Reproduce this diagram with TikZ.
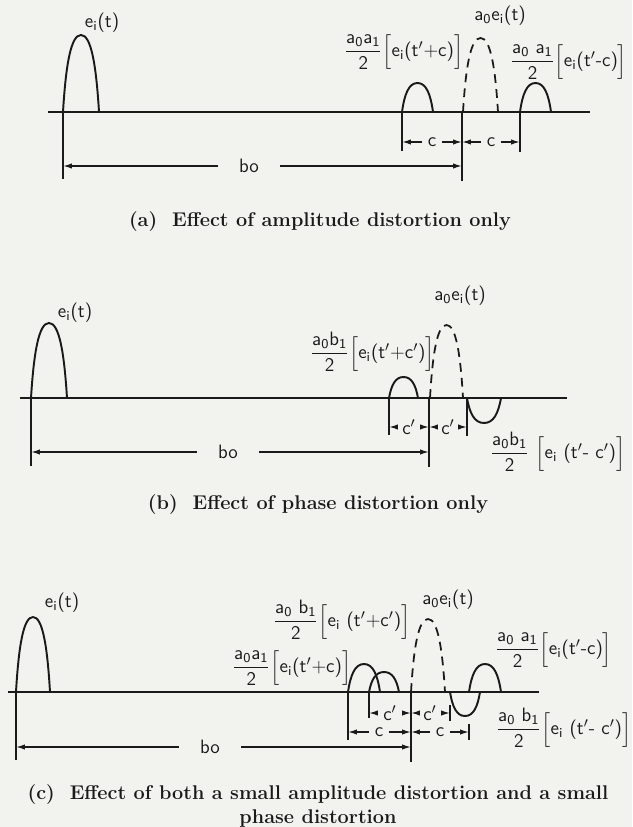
\documentclass[tikz,border=0pt]{standalone}
\usepackage{amsmath}
\usepackage{tikz}
\usetikzlibrary{arrows.meta}
\definecolor{Paper}{HTML}{F2F2EF}
\definecolor{Ink}{HTML}{1A1A1A}
\newcommand{\pfrac}[2]{\ensuremath{\dfrac{\text{#1}}{\text{#2}}}}
\newcommand{\pbrk}[1]{\ensuremath{\left[\vphantom{\dfrac{a}{2}}\text{#1}\right]}}
\newcommand{\drawpulse}[5][]{%
  \draw[wave,#1] (#2,#4) .. controls ({#2+0.08*(#3-#2)},{#4+0.62*(#5-#4)}) and ({#2+0.22*(#3-#2)},#5) .. ({0.5*(#2+#3)},#5)
    .. controls ({#3-0.22*(#3-#2)},#5) and ({#3-0.08*(#3-#2)},{#4+0.62*(#5-#4)}) .. (#3,#4);%
}

\begin{document}
\begin{tikzpicture}[x=0.02cm,y=-0.02cm,
    every node/.style={font=\sffamily\fontsize{11}{13}\selectfont,text=Ink,inner sep=1pt},
    wave/.style={draw=Ink,line width=1.1pt},
    ghost/.style={line width=1pt,dash pattern=on 5pt off 3.5pt},
    axisline/.style={draw=Ink,line width=0.9pt},
    extline/.style={draw=Ink,line width=0.9pt},
    dimarrow/.style={draw=Ink,line width=0.8pt,-{Latex[length=5pt,width=3pt]}},
    dimlabel/.style={inner xsep=3pt},
    caption/.style={font=\bfseries\fontsize{11.3}{14}\selectfont,align=center}]
  \fill[Paper] (0,0) rectangle (632,827);
  \useasboundingbox (0,0) rectangle (632,827);

  % (a)
  \draw[axisline] (48,112) -- (590,112);
  \drawpulse{63}{99}{112}{35}
  \drawpulse{402}{433}{112}{83}
  \drawpulse[ghost]{463}{498}{112}{38}
  \drawpulse{520}{551}{112}{83}
  \draw[extline] (63,112) -- (63,179);
  \draw[extline] (462,112) -- (462,181);
  \draw[extline] (402,112) -- (402,151);
  \draw[extline] (520,112) -- (520,152);
  \node (eia) at (102,23) {e\textsubscript{i}(t)};
  \node (refa) at (500,16) {a\textsubscript{0}e\textsubscript{i}(t)};
  \node[anchor=west] (ampla) at (342,52) {\pfrac{a\textsubscript{0}a\textsubscript{1}}{2}\pbrk{e\textsubscript{i}(t$'$+c)}};
  \node[anchor=west] (amplb) at (508,62) {\pfrac{a\textsubscript{0} a\textsubscript{1}}{2}\pbrk{e\textsubscript{i}(t$'$-c)}};
  \coordinate (ca1) at (402,142);
  \coordinate (ca2) at (462,142);
  \coordinate (ca3) at (520,142);
  \node[dimlabel] (cla) at (432,142) {c};
  \node[dimlabel] (cra) at (491,142) {c};
  \draw[dimarrow] (cla) -- (ca1);
  \draw[dimarrow] (cla) -- (ca2);
  \draw[dimarrow] (cra) -- (ca2);
  \draw[dimarrow] (cra) -- (ca3);
  \coordinate (boa1) at (63,166);
  \coordinate (boa2) at (462,166);
  \node[inner xsep=12pt] (boa) at (249,166) {bo};
  \draw[dimarrow] (boa) -- (boa1);
  \draw[dimarrow] (boa) -- (boa2);
  \node[caption] (capa) at (320,222) {(a)\ \ Effect of amplitude distortion only};

  % (b)
  \draw[axisline] (20,398) -- (567,398);
  \drawpulse{31}{67}{398}{323}
  \drawpulse{389}{418}{398}{377}
  \drawpulse[ghost]{430}{463}{398}{325}
  \drawpulse{467}{501}{398}{423}
  \draw[extline] (31,398) -- (31,466);
  \draw[extline] (429,398) -- (429,467);
  \draw[extline] (389,398) -- (389,435);
  \draw[extline] (467,398) -- (467,436);
  \node (eib) at (75,313) {e\textsubscript{i}(t)};
  \node (refb) at (460,296) {a\textsubscript{0}e\textsubscript{i}(t)};
  \node[anchor=west] (phsa) at (308,352) {\pfrac{a\textsubscript{0}b\textsubscript{1}}{2}\pbrk{e\textsubscript{i}(t$'$+c$'$)}};
  \node[anchor=west] (phsb) at (488,452) {\pfrac{a\textsubscript{0}b\textsubscript{1}}{2}\ \pbrk{e\textsubscript{i} (t$'$- c$'$)}};
  \coordinate (cb1) at (389,427);
  \coordinate (cb2) at (429,427);
  \coordinate (cb3) at (467,427);
  \node[dimlabel] (clb) at (409,427) {c$'$};
  \node[dimlabel] (crb) at (448,427) {c$'$};
  \draw[dimarrow] (clb) -- (cb1);
  \draw[dimarrow] (clb) -- (cb2);
  \draw[dimarrow] (crb) -- (cb2);
  \draw[dimarrow] (crb) -- (cb3);
  \coordinate (bob1) at (31,452);
  \coordinate (bob2) at (429,452);
  \node[inner xsep=12pt] (bob) at (228,452) {bo};
  \draw[dimarrow] (bob) -- (bob1);
  \draw[dimarrow] (bob) -- (bob2);
  \node[caption] (capb) at (318,505) {(b)\ \ Effect of phase distortion only};

  % (c)
  \draw[axisline] (8,692) -- (539,692);
  \drawpulse{16}{50}{692}{617}
  \drawpulse{348}{380}{692}{664}
  \drawpulse{369}{399}{692}{672}
  \drawpulse[ghost]{411}{445}{692}{619}
  \drawpulse{450}{480}{692}{716}
  \drawpulse{469}{501}{692}{664}
  \draw[extline] (16,692) -- (16,760);
  \draw[extline] (411,692) -- (411,762);
  \draw[extline] (348,692) -- (348,740);
  \draw[extline] (369,692) -- (369,718);
  \draw[extline] (450,705) -- (450,721);
  \draw[extline] (469,724) -- (469,740);
  \node (eic) at (62,603) {e\textsubscript{i}(t)};
  \node (refc) at (448,600) {a\textsubscript{0}e\textsubscript{i}(t)};
  \node[anchor=west] (phsc) at (271,620) {\pfrac{a\textsubscript{0} b\textsubscript{1}}{2}\pbrk{e\textsubscript{i} (t$'$+c$'$)}};
  \node[anchor=west] (amplc) at (230,668) {\pfrac{a\textsubscript{0}a\textsubscript{1}}{2}\pbrk{e\textsubscript{i}(t$'$+c)}};
  \node[anchor=west] (ampld) at (493,650) {\pfrac{a\textsubscript{0} a\textsubscript{1}}{2}\pbrk{e\textsubscript{i}(t$'$-c)}};
  \node[anchor=west] (phsd) at (494,728) {\pfrac{a\textsubscript{0} b\textsubscript{1}}{2}\pbrk{e\textsubscript{i} (t$'$- c$'$)}};
  \coordinate (cc1) at (369,713);
  \coordinate (cc2) at (411,713);
  \coordinate (cc3) at (450,713);
  \node[dimlabel] (clc) at (390,713) {c$'$};
  \node[dimlabel] (crc) at (430,713) {c$'$};
  \draw[dimarrow] (clc) -- (cc1);
  \draw[dimarrow] (clc) -- (cc2);
  \draw[dimarrow] (crc) -- (cc2);
  \draw[dimarrow] (crc) -- (cc3);
  \coordinate (dc1) at (348,732);
  \coordinate (dc2) at (411,732);
  \coordinate (dc3) at (469,732);
  \node[dimlabel] (dlc) at (379,732) {c};
  \node[dimlabel] (drc) at (440,732) {c};
  \draw[dimarrow] (dlc) -- (dc1);
  \draw[dimarrow] (dlc) -- (dc2);
  \draw[dimarrow] (drc) -- (dc2);
  \draw[dimarrow] (drc) -- (dc3);
  \coordinate (boc1) at (16,747);
  \coordinate (boc2) at (411,747);
  \node[inner xsep=12pt] (boc) at (210,747) {bo};
  \draw[dimarrow] (boc) -- (boc1);
  \draw[dimarrow] (boc) -- (boc2);
  \node[caption] (capc) at (318,806) {(c)\ \ Effect of both a small amplitude distortion and a small\\phase distortion};
\end{tikzpicture}
\end{document}
